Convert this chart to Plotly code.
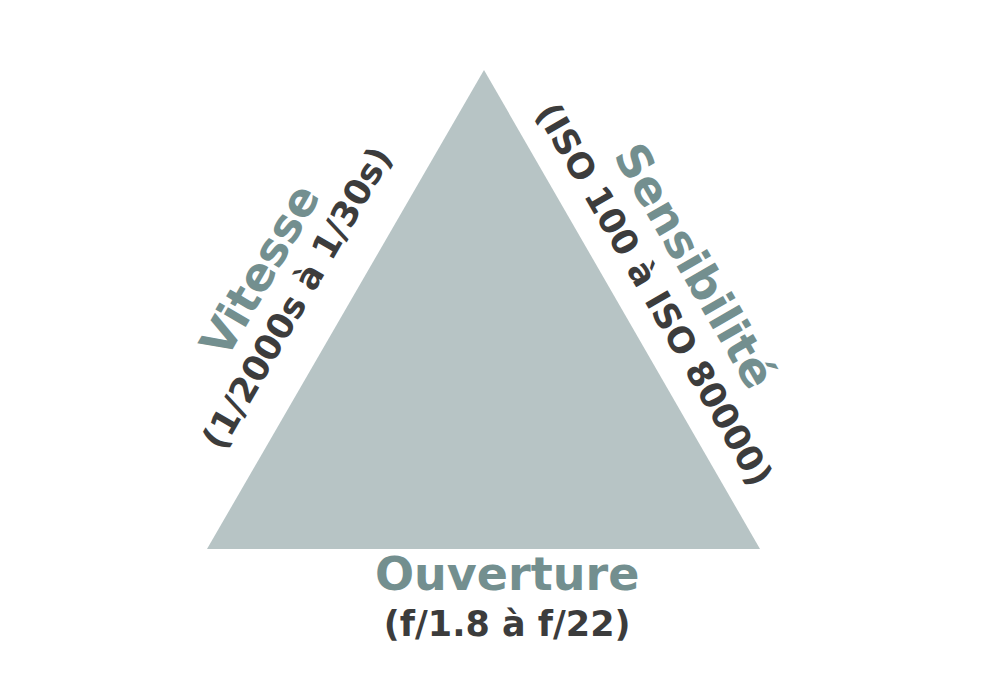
import plotly.graph_objects as go

# Sommets du triangle (en pixels de l'image)
sommets_x = [484, 760, 207, 484]
sommets_y = [70, 549, 549, 70]

# Textes des trois côtés
titres = ['Vitesse', 'Sensibilité', 'Ouverture']
plages = ['(1/2000s à 1/30s)', '(ISO 100 à ISO 80000)', '(f/1.8 à f/22)']

couleur_titre = '#738f8f'
couleur_plage = '#3c3c3c'
police = 'DejaVu Sans'

fig = go.Figure()

fig.add_trace(go.Scatter(
    x=sommets_x, y=sommets_y,
    mode='lines', fill='toself',
    fillcolor='#b7c4c5', line=dict(width=0, color='#b7c4c5'),
    hoverinfo='skip', showlegend=False
))

# côtés obliques : titre et plage séparés (x, y, angle)
pos_titres = [(260, 270, -60), (695, 266, 60)]
pos_plages = [(297, 298, -60), (654, 294, 60)]

for txt, (x, y, a) in zip(titres[:2], pos_titres):
    fig.add_annotation(x=x, y=y, text='<b>' + txt + '</b>', textangle=a,
                       showarrow=False, font=dict(family=police, size=46, color=couleur_titre))

for txt, (x, y, a) in zip(plages[:2], pos_plages):
    fig.add_annotation(x=x, y=y, text='<b>' + txt + '</b>', textangle=a,
                       showarrow=False, font=dict(family=police, size=35, color=couleur_plage))

# base : un seul bloc sur deux lignes
fig.add_annotation(
    x=507, y=595, showarrow=False,
    text=('<b><span style="font-size:46px;color:%s">%s</span><br>%s</b>'
          % (couleur_titre, titres[2], plages[2])),
    font=dict(family=police, size=35, color=couleur_plage)
)

# la page HTML a une marge de 8 px : on décale les axes d'autant
fig.update_layout(
    width=1000, height=681,
    margin=dict(l=0, r=0, t=0, b=0),
    plot_bgcolor='white', paper_bgcolor='white',
    xaxis=dict(range=[8, 1008], visible=False, fixedrange=True),
    yaxis=dict(range=[689, 8], visible=False, fixedrange=True),
)

fig.write_html("out.html")
